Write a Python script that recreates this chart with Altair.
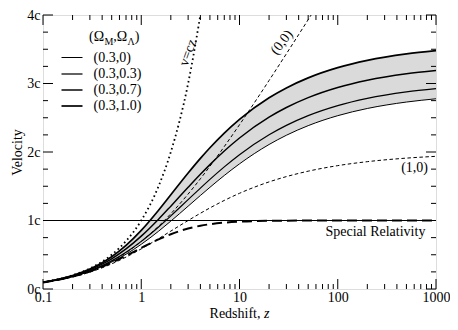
import altair as alt
import pandas as pd

# ---------------- data ----------------
z_grid = [0.1, 0.2, 0.3, 0.4, 0.5, 0.7, 1, 1.5, 2, 3, 4, 5, 7, 10, 20, 30, 50, 100, 200, 500, 1000]
v_03_00 = [0.0945, 0.1796, 0.2569, 0.3275, 0.3922, 0.5075, 0.6527, 0.8432, 0.9910, 1.2091, 1.3653,
           1.4844, 1.6570, 1.8270, 2.1095, 2.2444, 2.3848, 2.5304, 2.6353, 2.7293, 2.7769]
v_03_03 = [0.0959, 0.1841, 0.2655, 0.3408, 0.4105, 0.5359, 0.6951, 0.9048, 1.0671, 1.3048, 1.4732,
           1.6005, 1.7831, 1.9607, 2.2519, 2.3893, 2.5314, 2.6780, 2.7832, 2.8774, 2.9251]
v_03_07 = [0.0977, 0.1907, 0.2789, 0.3623, 0.4410, 0.5851, 0.7714, 1.0189, 1.2095, 1.4840, 1.6743,
           1.8155, 2.0145, 2.2043, 2.5083, 2.6493, 2.7938, 2.9418, 3.0475, 3.1420, 3.1897]
v_03_10 = [0.0992, 0.1963, 0.2909, 0.3825, 0.4707, 0.6362, 0.8555, 1.1501, 1.3753, 1.6925, 1.9062,
           2.0616, 2.2763, 2.4769, 2.7918, 2.9357, 3.0821, 3.2312, 3.3373, 3.4319, 3.4797]
v_10 = [0.0931, 0.1743, 0.2459, 0.3097, 0.3670, 0.4661, 0.5858, 0.7351, 0.8453, 1.0000, 1.1056,
        1.1835, 1.2929, 1.3970, 1.5636, 1.6408, 1.7199, 1.8010, 1.8589, 1.9106, 1.9368]
v_sr = [0.0950, 0.1803, 0.2565, 0.3243, 0.3846, 0.4859, 0.6000, 0.7241, 0.8000, 0.8824, 0.9231,
        0.9459, 0.9692, 0.9836, 0.9955, 0.9979, 0.9992, 0.9998, 1.0000, 1.0000, 1.0000]

z_empty = [0.1, 0.2, 0.3, 0.4, 0.5, 0.7, 1, 1.5, 2, 3, 4, 5, 7, 10, 15, 20, 30, 40, 50, 60]
v_empty = [0.0953, 0.1823, 0.2624, 0.3365, 0.4055, 0.5306, 0.6931, 0.9163, 1.0986, 1.3863, 1.6094,
           1.7918, 2.0794, 2.3979, 2.7726, 3.0445, 3.4340, 3.7136, 3.9318, 4.1109]

z_cz = [0.1, 0.2, 0.3, 0.4, 0.5, 0.7, 1, 1.5, 2, 3, 4]
v_cz = [0.1, 0.2, 0.3, 0.4, 0.5, 0.7, 1, 1.5, 2, 3, 4]

series_names = ["(0.3,0)", "(0.3,0.3)", "(0.3,0.7)", "(0.3,1.0)"]
series_values = [v_03_00, v_03_03, v_03_07, v_03_10]

hline = [1.0]

x_ticks_major = [0.1, 1, 10, 100, 1000]
x_ticks_minor = [m * 10.0 ** e for e in (-1, 0, 1, 2) for m in range(2, 10)]
y_ticks_major = [0, 1, 2, 3, 4]
y_ticks_minor = [0.25, 0.5, 0.75, 1.25, 1.5, 1.75, 2.25, 2.5, 2.75, 3.25, 3.5, 3.75]

ann_text = ["v=cz", "(0,0)", "(1,0)", "Special Relativity"]
ann_z = [3.0, 27.0, 605, 780]
ann_v = [3.45, 3.6, 1.77, 0.835]

# ---------------- layout / style ----------------
W, H = 393, 274
FONT = "Liberation Serif"
FS = 14

xscale = alt.Scale(type="log", domain=[0.1, 1000], nice=False)
yscale = alt.Scale(domain=[0, 4], nice=False)
xaxis = alt.Axis(values=x_ticks_major, format="~g", title=None, ticks=False, tickSize=0,
                 domain=False, grid=False, labelFont=FONT, labelFontSize=FS, labelColor="black",
                 labelPadding=1, labelFlush=False)
yaxis = alt.Axis(values=y_ticks_major, labelExpr="datum.value + 'c'", title="Velocity",
                 ticks=False, tickSize=0, domain=False, grid=False, labelFont=FONT,
                 labelFontSize=FS, labelColor="black", labelPadding=3, titleFont=FONT,
                 titleFontSize=FS, titleFontWeight="normal", titleColor="black", titlePadding=2)


def X(f):
    return alt.X(f, type="quantitative", scale=xscale, axis=xaxis)


def Y(f):
    return alt.Y(f, type="quantitative", scale=yscale, axis=yaxis)


df_main = pd.DataFrame({"z": z_grid, "lo": v_03_00, "hi": v_03_10, "v10": v_10, "sr": v_sr})
rows = []
for name, vals in zip(series_names, series_values):
    for z, v in zip(z_grid, vals):
        rows.append({"z": z, "v": v, "series": name})
df_lines = pd.DataFrame(rows)
df_empty = pd.DataFrame({"z": z_empty, "v": v_empty})
df_cz = pd.DataFrame({"z": z_cz, "v": v_cz})

layers = []

# grey band
layers.append(alt.Chart(df_main).mark_area(color="#dadada", interpolate="monotone").encode(
    x=X("z"), y=Y("lo"), y2="hi"))

# 1c line
layers.append(alt.Chart(pd.DataFrame({"v": hline})).mark_rule(color="black", strokeWidth=1).encode(
    y=Y("v")))

# special relativity
layers.append(alt.Chart(df_main).mark_line(color="black", strokeWidth=2, strokeDash=[10, 5],
                                           interpolate="monotone").encode(x=X("z"), y=Y("sr")))
# (1,0)
layers.append(alt.Chart(df_main).mark_line(color="black", strokeWidth=1, strokeDash=[3.5, 2.5],
                                           interpolate="monotone").encode(x=X("z"), y=Y("v10")))
# (0,0)
layers.append(alt.Chart(df_empty).mark_line(color="black", strokeWidth=1, strokeDash=[3.5, 2.5],
                                            interpolate="monotone", clip=True).encode(
    x=X("z"), y=Y("v")))
# v = cz
layers.append(alt.Chart(df_cz).mark_line(color="black", strokeWidth=1.8, strokeDash=[1.6, 3],
                                         interpolate="monotone", clip=True).encode(
    x=X("z"), y=Y("v")))

# four solid curves with legend
layers.append(alt.Chart(df_lines).mark_line(color="black", interpolate="monotone", clip=True).encode(
    x=X("z"), y=Y("v"),
    detail="series:N",
    strokeWidth=alt.StrokeWidth(
        "series:N",
        scale=alt.Scale(domain=series_names, range=[1, 1.7, 2.3, 3.2]),
        legend=alt.Legend(orient="none", legendX=21, legendY=35, title=None,
                          symbolType="M-1.5,0H1.5", symbolSize=196, symbolStrokeColor="black",
                          labelFont=FONT, labelFontSize=FS, labelColor="black", labelOffset=13.5,
                          rowPadding=1, padding=0),
    )))

# inward ticks
for vals, ln in ((x_ticks_major, 10), (x_ticks_minor, 5)):
    d = pd.DataFrame({"t": vals})
    layers.append(alt.Chart(d).mark_rule(color="black", strokeWidth=1).encode(
        x=X("t"), y=alt.value(H), y2=alt.value(H - ln)))
    layers.append(alt.Chart(d).mark_rule(color="black", strokeWidth=1).encode(
        x=X("t"), y=alt.value(0), y2=alt.value(ln)))
for vals, ln in ((y_ticks_major, 10), (y_ticks_minor, 5)):
    d = pd.DataFrame({"t": vals})
    layers.append(alt.Chart(d).mark_rule(color="black", strokeWidth=1).encode(
        y=Y("t"), x=alt.value(0), x2=alt.value(ln)))
    layers.append(alt.Chart(d).mark_rule(color="black", strokeWidth=1).encode(
        y=Y("t"), x=alt.value(W), x2=alt.value(W - ln)))

# annotations
styles = [dict(angle=290, align="center"), dict(angle=308, align="center"),
          dict(angle=0, align="center"), dict(angle=0, align="right")]
for t, z, v, st in zip(ann_text, ann_z, ann_v, styles):
    layers.append(alt.Chart(pd.DataFrame({"z": [z], "v": [v], "t": [t]})).mark_text(
        font=FONT, fontSize=FS, color="black", baseline="middle", **st).encode(
        x=X("z"), y=Y("v"), text="t:N"))

# legend title (Ω_M, Ω_Λ) with subscripts
one = alt.Data(values=[{}])
x0, ty = 46, 26
pieces = [("(Ω", 0, 0, FS), ("M", 15.4, 4, 10), (",Ω", 24.3, 0, FS), ("Λ", 38.6, 4, 10), (")", 45.8, 0, FS)]
for txt, dx, dy, fs in pieces:
    layers.append(alt.Chart(one).mark_text(text=txt, font=FONT, fontSize=fs, color="black",
                                           align="left", baseline="alphabetic",
                                           x=x0 + dx, y=ty + dy))

# x-axis title "Redshift, z" with italic z
layers.append(alt.Chart(one).mark_text(text="Redshift,", font=FONT, fontSize=FS, color="black",
                                       align="right", baseline="alphabetic", x=W / 2 + 21, y=H + 29))
layers.append(alt.Chart(one).mark_text(text="z", font=FONT, fontSize=FS, color="black",
                                       fontStyle="italic", align="left", baseline="alphabetic",
                                       x=W / 2 + 24.5, y=H + 29))

chart = alt.layer(*layers).properties(
    width=W, height=H,
    padding={"left": 35, "top": 7, "right": 14, "bottom": 33},
    autosize=alt.AutoSizeParams(type="none"),
).configure_view(stroke="black", strokeWidth=1.5).configure(background="white")

chart.save("out.html", embed_options={"renderer": "svg", "actions": False})
